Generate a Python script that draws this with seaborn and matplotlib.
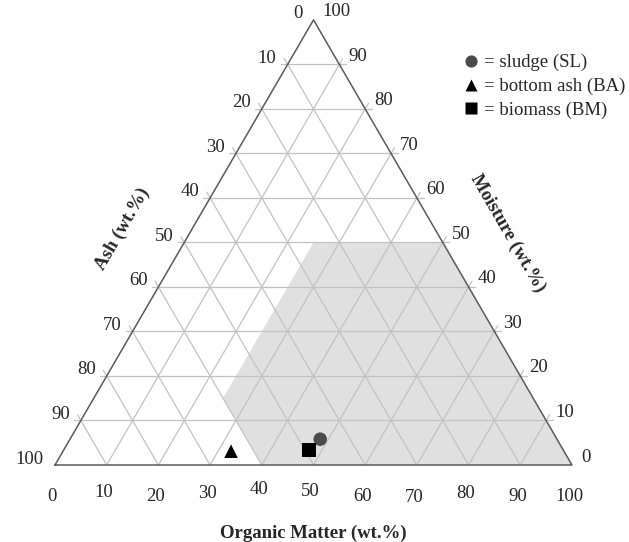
import numpy as np
import pandas as pd
import seaborn as sns
import matplotlib.pyplot as plt

# sample compositions (wt.%)
samples = ["sludge (SL)", "bottom ash (BA)", "biomass (BM)"]
organic = [48.4, 32.5, 47.4]
moisture = [5.8, 3.1, 3.4]
ash = [45.8, 64.4, 49.2]

# shaded area corners (organic, moisture)
shade_organic = [40, 100, 50, 25, 25]
shade_moisture = [0, 0, 50, 50, 15]

ticks = [0, 10, 20, 30, 40, 50, 60, 70, 80, 90, 100]
tick_labels = [str(t) for t in ticks]
# the bottom labels in the original sit a little uneven
bottom_jitter = [-2, 1.3, -2, 0.7, 5, 3, -2, -3.7, 1, -2, -2]

H = np.sqrt(3) / 2


def to_xy(o, m):
    o = np.asarray(o, dtype=float)
    m = np.asarray(m, dtype=float)
    return o + m / 2, m * H


sns.set_style("white")
plt.rcParams["font.family"] = ["Liberation Serif", "DejaVu Serif"]

fig = plt.figure(figsize=(6.29, 5.42), dpi=100)
ax = fig.add_axes([0, 0, 1, 1])
ax.set_xlim(-10.64, 111.03)
ax.set_ylim(-14.98, 90.47)
ax.axis("off")

# shaded region
sx, sy = to_xy(shade_organic, shade_moisture)
ax.fill(sx, sy, color="#e0e0e0", lw=0, zorder=0)

# grid lines, poking out a little where they meet the side edges
grid_kw = dict(color="#c2c2c2", lw=0.9, zorder=1)
ext = 1.3
for t in ticks[1:-1]:
    # constant moisture
    x0, y0 = to_xy(0, t)
    x1, y1 = to_xy(100 - t, t)
    ax.plot([x0 - ext, x1 + ext], [y0, y1], **grid_kw)
    # constant organic matter (parallel to left edge)
    x0, y0 = to_xy(t, 0)
    x1, y1 = to_xy(t, 100 - t)
    ax.plot([x0, x1 + ext * 0.5], [y0, y1 + ext * H], **grid_kw)
    # constant ash (parallel to right edge)
    x0, y0 = to_xy(100 - t, 0)
    x1, y1 = to_xy(0, 100 - t)
    ax.plot([x0, x1 - ext * 0.5], [y0, y1 + ext * H], **grid_kw)

# outline
ox, oy = to_xy([0, 100, 0, 0], [0, 0, 100, 0])
ax.plot(ox, oy, color="#5a5a5a", lw=1.1, zorder=2)

# tick labels
fs = 13.5
for t, lab, j in zip(ticks, tick_labels, bottom_jitter):
    bx, by = to_xy(t, 0)
    ax.annotate(lab, (bx, by), xytext=(-3, -29 + j), textcoords="offset pixels",
                ha="center", va="center", fontsize=fs)
    # ash along the left edge
    lx, ly = to_xy(0, 100 - t)
    ax.annotate(lab, (lx, ly), xytext=(-11, 6), textcoords="offset pixels",
                ha="right", va="center", fontsize=fs)
    # moisture along the right edge
    rx, ry = to_xy(100 - t, t)
    ax.annotate(lab, (rx, ry), xytext=(9, 8), textcoords="offset pixels",
                ha="left", va="center", fontsize=fs)

# axis titles
mx, my = to_xy(0, 50)
ax.annotate("Ash (wt.%)", (mx, my), xytext=(-62, 14), textcoords="offset pixels",
            ha="center", va="center", rotation=60, fontsize=fs, fontweight="bold")
mx, my = to_xy(50, 50)
ax.annotate("Moisture (wt.%)", (mx, my), xytext=(65, 9), textcoords="offset pixels",
            ha="center", va="center", rotation=-60, fontsize=fs, fontweight="bold")
mx, my = to_xy(50, 0)
ax.annotate("Organic Matter (wt.%)", (mx, my), xytext=(0, -68), textcoords="offset pixels",
            ha="center", va="center", fontsize=fs, fontweight="bold")

# samples
px, py = to_xy(organic, moisture)
df = pd.DataFrame({"x": px, "y": py, "sample": samples})
sns.scatterplot(data=df, x="x", y="y", hue="sample", style="sample",
                palette={"sludge (SL)": "#4a4a4a", "bottom ash (BA)": "black",
                         "biomass (BM)": "black"},
                markers={"sludge (SL)": "o", "bottom ash (BA)": "^",
                         "biomass (BM)": "s"},
                s=95, edgecolor="none", zorder=3, ax=ax)

handles, labels = ax.get_legend_handles_labels()
for h in handles:
    h.set_color("black")
ax.legend(handles, ["= " + l for l in labels], loc="upper left",
          bbox_to_anchor=(458 / 629, 1 - 54 / 542), frameon=False,
          fontsize=fs, handletextpad=0.0, labelspacing=0.35,
          borderpad=0, borderaxespad=0, markerscale=0.9, handlelength=1.4)

fig.savefig("out.png", dpi=100)
